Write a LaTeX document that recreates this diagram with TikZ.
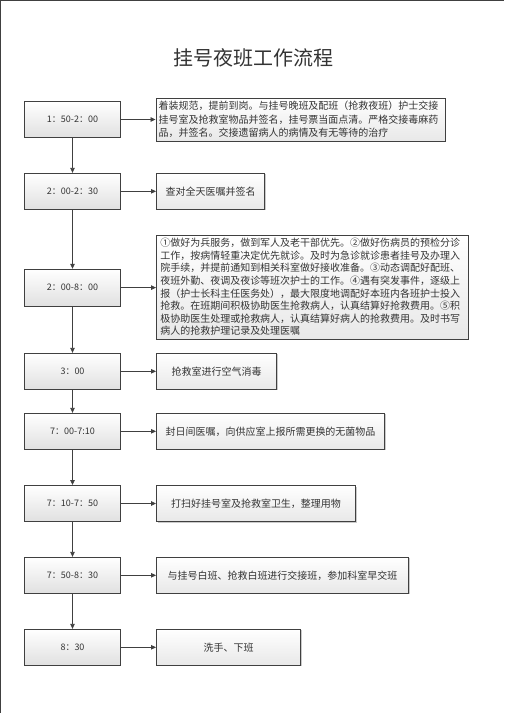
\documentclass[tikz,border=0pt]{standalone}
\usepackage{fontspec}
\setmainfont{Noto Sans CJK SC}
\usetikzlibrary{arrows.meta,shadows}
\definecolor{ink}{HTML}{333333}
\definecolor{edge}{HTML}{404040}
\XeTeXlinebreaklocale "zh"
\XeTeXlinebreakskip=0pt plus 4pt
\newcommand\jline[2]{\makebox[#1][s]{#2}\\}
\begin{document}
\begin{tikzpicture}[x=1pt,y=-1pt,
  timebox/.style={draw=edge,line width=0.9pt,top color=white,bottom color=black!12,
    minimum width=96pt,minimum height=36pt,inner sep=0pt,text=ink,font=\fontsize{9}{11}\selectfont},
  taskbox/.style={draw=edge,line width=0.9pt,top color=white,bottom color=black!9,
    drop shadow={shadow xshift=1pt,shadow yshift=-1pt,fill=black!35,opacity=0.6},
    minimum height=36pt,inner sep=0pt,text=ink,font=\fontsize{10}{12}\selectfont},
  longbox/.style={draw=edge,line width=0.9pt,top color=white,bottom color=black!9,
    drop shadow={shadow xshift=1pt,shadow yshift=-1pt,fill=black!35,opacity=0.6},
    inner xsep=0pt,inner ysep=0pt,text=ink,align=left},
  flow/.style={draw=edge,line width=0.8pt,-{Triangle[length=5pt,width=4.5pt]}}]
\useasboundingbox (0,0) rectangle (504,713);
\draw[edge,line width=0.9pt] (0.5,713) -- (0.5,0.5) -- (504,0.5);
\node[text=ink,font=\fontsize{20}{24}\selectfont] (title) at (253,58) {挂号夜班工作流程};
% time boxes
\node[timebox] (t1) at (72.5,119.5) {1：50-2：00};
\node[timebox] (t2) at (72.5,191.3) {2：00-2：30};
\node[timebox,minimum height=36.7pt] (t3) at (72.5,287.6) {2：00-8：00};
\node[timebox] (t4) at (72.5,371.3) {3：00};
\node[timebox] (t5) at (72.5,431.3) {7：00-7:10};
\node[timebox] (t6) at (72.5,503.5) {7：10-7：50};
\node[timebox] (t7) at (72.5,575.3) {7：50-8：30};
\node[timebox] (t8) at (72.5,647.3) {8：30};
% task boxes
\node[longbox,minimum width=289pt,minimum height=43pt,font=\fontsize{10}{13.3}\selectfont] (r1) at (300.5,119.5)
  {\jline{284pt}{着装规范，提前到岗。与挂号晚班及配班（抢救夜班）护士交接}
   \jline{284pt}{挂号室及抢救室物品并签名，挂号票当面点清。严格交接毒麻药}
   品，并签名。交接遗留病人的病情及有无等待的治疗\hspace*{48pt}};
\node[taskbox,minimum width=108pt] (r2) at (210.5,191.3) {查对全天医嘱并签名};
\node[longbox,minimum width=311.5pt,minimum height=104pt,font=\fontsize{10}{12.6}\selectfont] (r3) at (312.25,287)
  {\jline{304pt}{①做好为兵服务，做到军人及老干部优先。②做好伤病员的预检分诊}
   \jline{304pt}{工作，按病情轻重决定优先就诊。及时为急诊就诊患者挂号及办理入}
   \jline{304pt}{院手续，并提前通知到相关科室做好接收准备。③动态调配好配班、}
   \jline{304pt}{夜班外勤、夜调及夜诊等班次护士的工作。④遇有突发事件，逐级上}
   \jline{304pt}{报（护士长科主任医务处），最大限度地调配好本班内各班护士投入}
   \jline{304pt}{抢救。在班期间积极协助医生抢救病人，认真结算好抢救费用。⑤积}
   \jline{304pt}{极协助医生处理或抢救病人，认真结算好病人的抢救费用。及时书写}
   病人的抢救护理记录及处理医嘱\hspace*{154pt}};
\node[taskbox,minimum width=120pt] (r4) at (216.5,371.3) {抢救室进行空气消毒};
\node[taskbox,minimum width=228pt] (r5) at (270.5,431.3) {封日间医嘱，向供应室上报所需更换的无菌物品};
\node[taskbox,minimum width=199pt] (r6) at (256,503.5) {打扫好挂号室及抢救室卫生，整理用物};
\node[taskbox,minimum width=252pt] (r7) at (282.5,575.3) {与挂号白班、抢救白班进行交接班，参加科室早交班};
\node[taskbox,minimum width=144pt] (r8) at (228.5,647.3) {洗手、下班};
% vertical flow
\foreach \a/\b in {t1/t2,t2/t3,t3/t4,t4/t5,t5/t6,t6/t7,t7/t8}
  \draw[flow] (\a.south) -- (\b.north);
% horizontal flow
\foreach \i in {1,...,8}
  \draw[flow] (t\i.east) -- (t\i.east -| r\i.west);
\end{tikzpicture}
\end{document}
